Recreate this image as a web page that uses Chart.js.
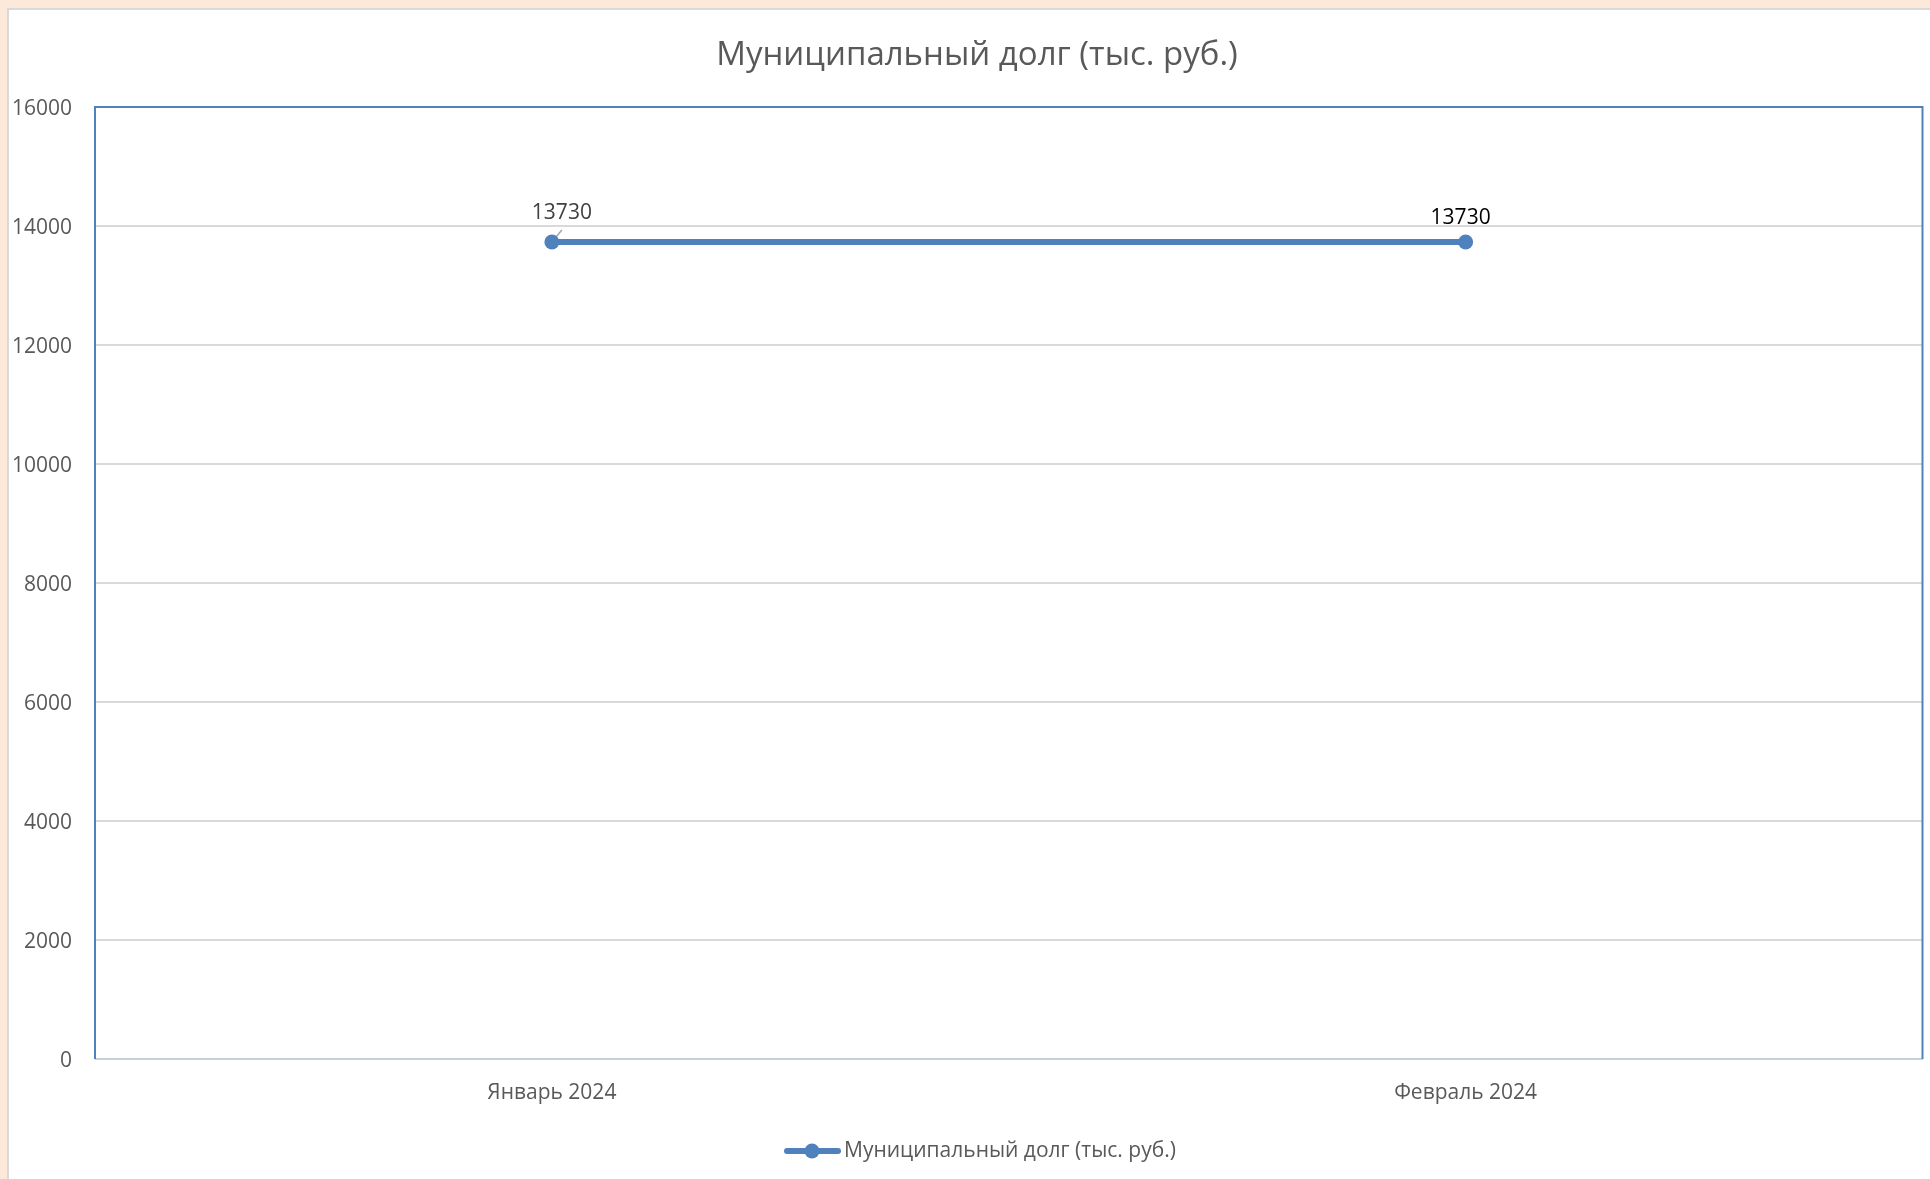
<!DOCTYPE html>
<html>
<head>
<meta charset="utf-8">
<script src="https://cdn.jsdelivr.net/npm/chart.js@4.4.1/dist/chart.umd.min.js"></script>
<style>
  html, body { margin: 0; padding: 0; background: #fde9d9; overflow: hidden; }
  #sheet {
    position: absolute; left: 7px; top: 8px; width: 1960px; height: 1200px;
    background: #ffffff; border: 2px solid #d9d9d9; box-sizing: border-box;
  }
  #chart { position: absolute; left: 0; top: 0; }
</style>
</head>
<body>
<div id="sheet"></div>
<canvas id="chart" width="1930" height="1179"></canvas>
<script>
// Data
const categories = ['Январь 2024', 'Февраль 2024'];
const debtValues = [13730, 13730];
const seriesName = 'Муниципальный долг (тыс. руб.)';
const chartTitle = 'Муниципальный долг (тыс. руб.)';
const yMin = 0;
const yMax = 16000;
const yStep = 2000;

const FONT = "'Open Sans', 'Noto Sans', sans-serif";
const BLUE = '#4f81bd';
const TEXT = '#595959';

// Title, legend, frame and value labels drawn by hand
const decorPlugin = {
    id: 'decor',
    beforeDatasetsDraw(chart) {
        const { ctx, chartArea: a } = chart;
        ctx.save();
        // plot frame
        ctx.lineWidth = 2;
        ctx.strokeStyle = '#c5cedb';
        ctx.beginPath();
        ctx.moveTo(a.left, a.bottom);
        ctx.lineTo(a.right, a.bottom);
        ctx.stroke();
        ctx.strokeStyle = BLUE;
        ctx.beginPath();
        ctx.moveTo(a.left, a.bottom);
        ctx.lineTo(a.left, a.top);
        ctx.lineTo(a.right, a.top);
        ctx.lineTo(a.right, a.bottom);
        ctx.stroke();
        // leader line for the first label
        const p = chart.getDatasetMeta(0).data[0];
        ctx.strokeStyle = '#a6a6a6';
        ctx.lineWidth = 1.5;
        ctx.beginPath();
        ctx.moveTo(p.x, p.y);
        ctx.lineTo(p.x + 10, p.y - 12);
        ctx.stroke();
        ctx.restore();
    },
    afterDatasetsDraw(chart) {
        const { ctx } = chart;
        const pts = chart.getDatasetMeta(0).data;
        ctx.save();
        ctx.font = '21px ' + FONT;
        ctx.textAlign = 'center';
        ctx.textBaseline = 'middle';
        // first label sits up and right of its point, second right above
        ctx.fillStyle = '#404040';
        ctx.fillText(String(debtValues[0]), pts[0].x + 10, pts[0].y - 29);
        ctx.fillStyle = '#000000';
        ctx.fillText(String(debtValues[1]), pts[1].x - 5, pts[1].y - 24);
        ctx.restore();
    },
    afterDraw(chart) {
        const { ctx } = chart;
        ctx.save();
        // title
        ctx.fillStyle = TEXT;
        ctx.font = '33px ' + FONT;
        ctx.textAlign = 'center';
        ctx.textBaseline = 'middle';
        ctx.fillText(chartTitle, 977, 56);
        // legend
        const ly = 1151;
        ctx.strokeStyle = BLUE;
        ctx.lineWidth = 6;
        ctx.lineCap = 'round';
        ctx.beginPath();
        ctx.moveTo(787, ly);
        ctx.lineTo(838, ly);
        ctx.stroke();
        ctx.fillStyle = BLUE;
        ctx.beginPath();
        ctx.arc(812, ly, 7.5, 0, Math.PI * 2);
        ctx.fill();
        ctx.fillStyle = TEXT;
        ctx.font = '21px ' + FONT;
        ctx.textAlign = 'left';
        ctx.fillText(seriesName, 844, ly);
        ctx.restore();
    }
};

const ctx = document.getElementById('chart').getContext('2d');
new Chart(ctx, {
    type: 'line',
    data: {
        labels: categories,
        datasets: [{
            label: seriesName,
            data: debtValues,
            borderColor: BLUE,
            backgroundColor: BLUE,
            borderWidth: 6,
            pointRadius: 7.5,
            pointHoverRadius: 7.5,
            pointBackgroundColor: BLUE,
            pointBorderWidth: 0,
            tension: 0,
            fill: false
        }]
    },
    options: {
        responsive: false,
        animation: false,
        events: [],
        layout: { padding: { left: 0, top: 107, right: 7, bottom: 0 } },
        plugins: {
            legend: { display: false },
            title: { display: false },
            tooltip: { enabled: false }
        },
        scales: {
            x: {
                offset: true,
                grid: { display: false, drawTicks: false },
                border: { display: false },
                ticks: { color: TEXT, font: { family: FONT, size: 21 }, padding: 21 },
                afterFit(s) { s.height = 120; }
            },
            y: {
                min: yMin,
                max: yMax,
                ticks: {
                    stepSize: yStep, color: TEXT, font: { family: FONT, size: 21 }, padding: 23,
                    labelOffset: 2,
                    callback: v => String(v)
                },
                grid: { color: '#d9d9d9', lineWidth: 2, drawTicks: false },
                border: { display: false },
                afterFit(s) { s.width = 95; }
            }
        }
    },
    plugins: [decorPlugin]
});
</script>
</body>
</html>
